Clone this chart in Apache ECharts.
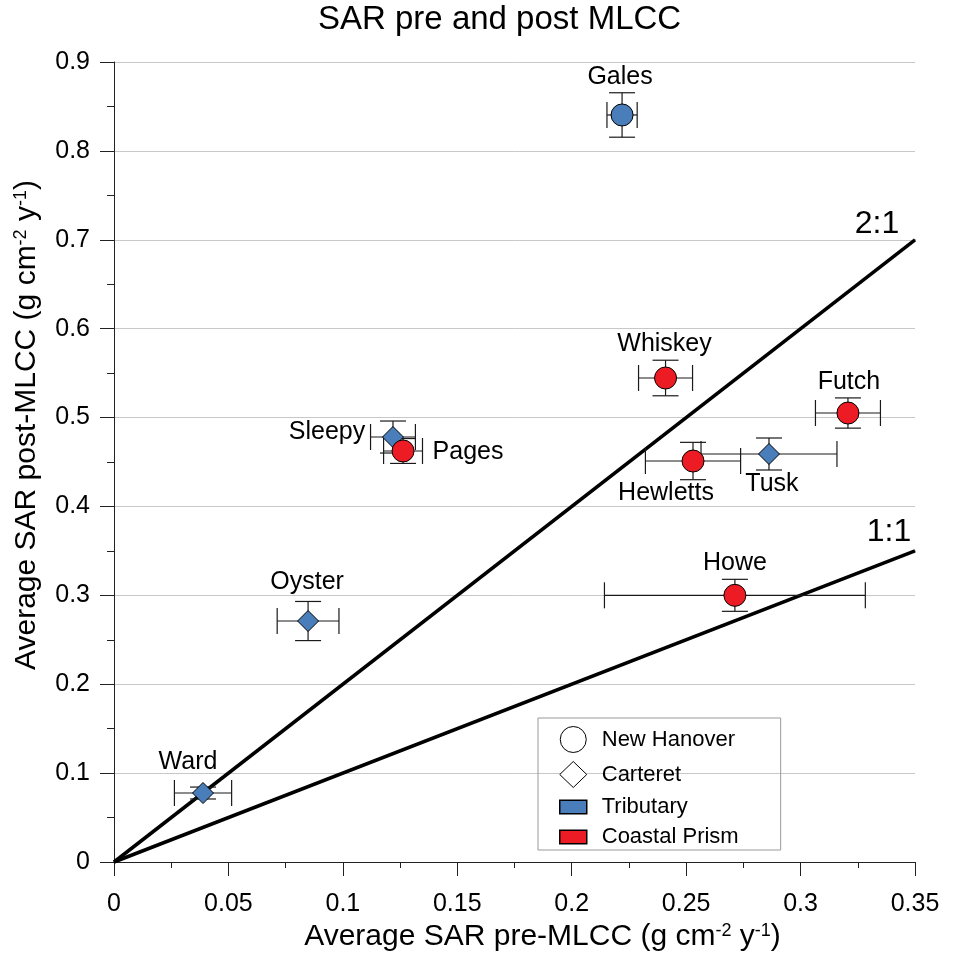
<!DOCTYPE html>
<html>
<head>
<meta charset="utf-8">
<title>SAR pre and post MLCC</title>
<script src="https://cdn.jsdelivr.net/npm/echarts@6/dist/echarts.min.js"></script>
<style>
  html, body { margin: 0; padding: 0; background: #fff; }
  #chart { width: 953px; height: 957px; }
</style>
</head>
<body>
<div id="chart"></div>
<script>
// 站点数据 (x = pre-MLCC, y = post-MLCC)
var sites   = ['Gales', 'Whiskey', 'Futch', 'Hewletts', 'Tusk', 'Howe', 'Sleepy', 'Pages', 'Oyster', 'Ward'];
var preSAR  = [0.222, 0.241, 0.3207, 0.253, 0.2862, 0.2713, 0.1219, 0.1263, 0.0848, 0.0389];
var postSAR = [0.8404, 0.5445, 0.5051, 0.4511, 0.459, 0.300, 0.4781, 0.4624, 0.2711, 0.0776];
var preErr  = [0.0066, 0.0118, 0.0142, 0.0208, 0.0297, 0.057, 0.0098, 0.0085, 0.0135, 0.0125];
var postErr = [0.025, 0.020, 0.017, 0.021, 0.018, 0.018, 0.018, 0.014, 0.022, 0.0067];
var county  = ['New Hanover', 'New Hanover', 'New Hanover', 'New Hanover', 'Carteret', 'New Hanover', 'Carteret', 'New Hanover', 'Carteret', 'Carteret'];
var setting = ['Tributary', 'Coastal Prism', 'Coastal Prism', 'Coastal Prism', 'Tributary', 'Coastal Prism', 'Tributary', 'Coastal Prism', 'Tributary', 'Tributary'];

// 参考线
var line11 = [[0, 0], [0.35, 0.35]];
var line21 = [[0, 0], [0.35, 0.7]];

var xTicks = { min: 0, max: 0.35, interval: 0.05 };
var yTicks = { min: 0, max: 0.9, interval: 0.1 };

// 标签偏移 (像素)
var labelOffsets = [[-2, -38], [-1, -34], [1, -31], [-27, 32], [3, 30], [0, -32], [-66, -5], [65, 1], [-1, -39], [-15, -31]];

var colorMap = { 'Tributary': '#4a7ebb', 'Coastal Prism': '#ed1c24' };
var FONT = 'Liberation Sans, Arial, Helvetica, sans-serif';

var pointData = sites.map(function (n, i) {
    return {
        name: n,
        value: [preSAR[i], postSAR[i]],
        symbol: county[i] === 'New Hanover' ? 'circle' : 'diamond',
        symbolSize: county[i] === 'New Hanover' ? 22 : 21,
        itemStyle: { color: colorMap[setting[i]] },
        label: { offset: labelOffsets[i] }
    };
});
var errData = sites.map(function (n, i) {
    return [preSAR[i], postSAR[i], preErr[i], postErr[i]];
});

function renderErr(params, api) {
    var x = api.value(0), y = api.value(1), ex = api.value(2), ey = api.value(3);
    var l = api.coord([x - ex, y]), r = api.coord([x + ex, y]);
    var b = api.coord([x, y - ey]), t = api.coord([x, y + ey]);
    var cap = 13;
    var st = { stroke: '#1a1a1a', lineWidth: 1.2 };
    var seg = function (x1, y1, x2, y2) {
        return { type: 'line', shape: { x1: x1, y1: y1, x2: x2, y2: y2 }, style: st };
    };
    return {
        type: 'group',
        children: [
            seg(l[0], l[1], r[0], r[1]),
            seg(l[0], l[1] - cap, l[0], l[1] + cap),
            seg(r[0], r[1] - cap, r[0], r[1] + cap),
            seg(b[0], b[1], t[0], t[1]),
            seg(b[0] - cap, b[1], b[0] + cap, b[1]),
            seg(t[0] - cap, t[1], t[0] + cap, t[1])
        ]
    };
}

function lineLabelData(pts, text, off) {
    return pts.map(function (p, i) {
        if (i < pts.length - 1) return p;
        return {
            value: p,
            label: { show: true, formatter: text, position: 'inside', offset: off, fontSize: 32, color: '#000' }
        };
    });
}

var chart = echarts.init(document.getElementById('chart'));
chart.setOption({
    animation: false,
    backgroundColor: '#fff',
    textStyle: { fontFamily: FONT },
    title: {
        text: 'SAR pre and post MLCC',
        left: 318,
        top: 3,
        padding: 0,
        textStyle: { fontSize: 33, fontWeight: 'normal', color: '#000', fontFamily: FONT }
    },
    grid: { left: 114, right: 38, top: 62, bottom: 95 },
    legend: {
        orient: 'vertical',
        left: 538,
        top: 718,
        itemWidth: 27,
        itemHeight: 26,
        itemGap: 8,
        padding: [8, 42, 2, 21],
        borderColor: '#999',
        borderWidth: 1,
        selectedMode: false,
        textStyle: { fontSize: 22, color: '#000', padding: [0, 0, 0, 10], fontFamily: FONT },
        data: [
            { name: 'New Hanover', icon: 'circle', itemStyle: { color: '#fff', borderColor: '#000', borderWidth: 1, opacity: 1 } },
            { name: 'Carteret', icon: 'diamond', itemStyle: { color: '#fff', borderColor: '#000', borderWidth: 1, opacity: 1 } },
            { name: 'Tributary', icon: 'path://M0,0h24v12h-24z', itemStyle: { color: colorMap['Tributary'], borderColor: '#000', borderWidth: 1.5, opacity: 1 } },
            { name: 'Coastal Prism', icon: 'path://M0,0h24v12h-24z', itemStyle: { color: colorMap['Coastal Prism'], borderColor: '#000', borderWidth: 1.5, opacity: 1 } }
        ]
    },
    xAxis: {
        type: 'value',
        min: xTicks.min, max: xTicks.max, interval: xTicks.interval,
        name: '{a|Average SAR pre-MLCC (g cm}{s|-2}{a| y}{s|-1}{a|)}',
        nameLocation: 'middle',
        nameGap: 58,
        nameTextStyle: {
            padding: [0, 0, 0, 56],
            rich: {
                a: { fontSize: 30, color: '#000', fontFamily: FONT },
                s: { fontSize: 18, color: '#000', verticalAlign: 'top', fontFamily: FONT }
            }
        },
        axisLine: { lineStyle: { color: '#222', width: 1 } },
        axisTick: { length: 14, lineStyle: { color: '#222' } },
        minorTick: { show: true, splitNumber: 2, length: 6, lineStyle: { color: '#222' } },
        axisLabel: { fontSize: 25, color: '#000', margin: 30 },
        splitLine: { show: false }
    },
    yAxis: {
        type: 'value',
        min: yTicks.min, max: yTicks.max, interval: yTicks.interval,
        name: '{a|Average SAR post-MLCC (g cm}{s|-2}{a| y}{s|-1}{a|)}',
        nameLocation: 'middle',
        nameRotate: 90,
        nameGap: 72,
        nameTextStyle: {
            padding: [0, 0, 0, 74],
            rich: {
                a: { fontSize: 30, color: '#000', fontFamily: FONT },
                s: { fontSize: 18, color: '#000', verticalAlign: 'top', fontFamily: FONT }
            }
        },
        axisLine: { show: true, lineStyle: { color: '#222', width: 1 } },
        axisTick: { show: true, length: 14, lineStyle: { color: '#222' } },
        minorTick: { show: true, splitNumber: 2, length: 7, lineStyle: { color: '#222' } },
        axisLabel: { fontSize: 25, color: '#000', margin: 24 },
        splitLine: { show: true, lineStyle: { color: '#c8c8c8', width: 1 } }
    },
    series: [
        {
            name: 'New Hanover', type: 'scatter', data: [], symbolKeepAspect: true,
            itemStyle: { color: '#fff', borderColor: '#000', opacity: 1 }
        },
        {
            name: 'Carteret', type: 'scatter', data: [], symbolKeepAspect: true,
            itemStyle: { color: '#fff', borderColor: '#000', opacity: 1 }
        },
        {
            name: 'Tributary', type: 'scatter', data: [], symbolKeepAspect: true,
            itemStyle: { color: colorMap['Tributary'], opacity: 1 }
        },
        {
            name: 'Coastal Prism', type: 'scatter', data: [], symbolKeepAspect: true,
            itemStyle: { color: colorMap['Coastal Prism'], opacity: 1 }
        },
        {
            name: '2:1', type: 'line',
            data: lineLabelData(line21, '2:1', [-38, -16]),
            symbol: 'circle', symbolSize: 1, showSymbol: true,
            itemStyle: { color: '#000' },
            lineStyle: { color: '#000', width: 3.5 },
            z: 2
        },
        {
            name: '1:1', type: 'line',
            data: lineLabelData(line11, '1:1', [-26, -19]),
            symbol: 'circle', symbolSize: 1, showSymbol: true,
            itemStyle: { color: '#000' },
            lineStyle: { color: '#000', width: 3.5 },
            z: 2
        },
        {
            name: 'err', type: 'custom',
            renderItem: renderErr,
            encode: { x: 0, y: 1 },
            data: errData,
            z: 3
        },
        {
            name: 'sites', type: 'scatter',
            data: pointData,
            itemStyle: { borderColor: '#000', borderWidth: 1, opacity: 1 },
            label: { show: true, position: 'inside', formatter: '{b}', fontSize: 25, color: '#000' },
            z: 4
        }
    ]
});
</script>
</body>
</html>
